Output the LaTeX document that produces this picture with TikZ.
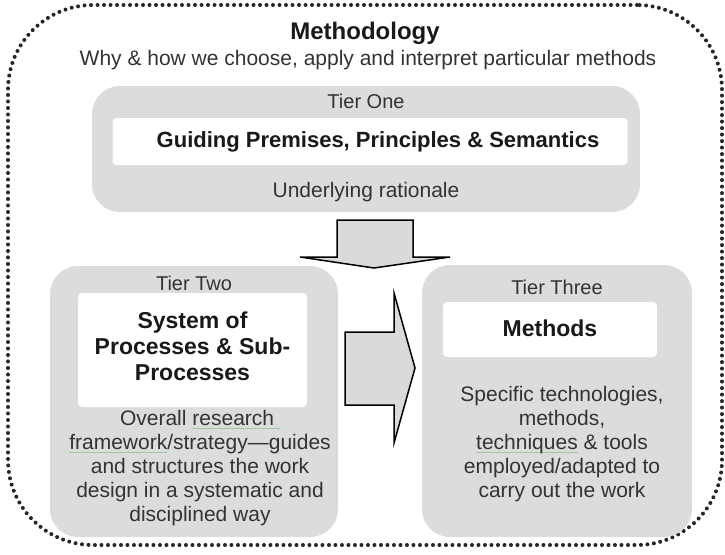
\documentclass[tikz,border=0pt]{standalone}
\usepackage{fontspec}
\setmainfont{Liberation Sans}
\definecolor{tiergray}{HTML}{DCDCDC}
\definecolor{arrowgray}{HTML}{DADADA}
\definecolor{txt}{HTML}{333333}
\definecolor{spell}{HTML}{9CCB9C}
\newcommand\gunder[1]{\setbox0\hbox{#1}\rlap{\textcolor{spell}{\rule[-4pt]{\wd0}{1.2pt}}}\box0}
\tikzset{
  outerbox/.style={draw=black!85, line width=4pt, dash pattern=on 0pt off 6.5pt, line cap=round, rounded corners=85pt, minimum width=714pt, minimum height=540pt},
  tierbox/.style={fill=tiergray, draw=none, rounded corners=28pt},
  whitebox/.style={fill=white, draw=none, rounded corners=4pt},
  tierlabel/.style={text=txt, font=\fontsize{20}{24}\selectfont},
  bodytext/.style={text=txt, font=\fontsize{21}{24}\selectfont, align=center},
  boldtext/.style={text=black!90, font=\fontsize{23}{26}\selectfont\bfseries, align=center},
  blockarrow/.style={fill=arrowgray, draw=black, line width=1.5pt, line join=miter},
}
\begin{document}
\begin{tikzpicture}[x=1pt,y=-1pt]
\useasboundingbox (0,0) rectangle (725,554);
% outer frame
\node[outerbox] (outer) at (365,275) {};
\node[text=black!90, font=\fontsize{24}{28}\selectfont\bfseries] (title) at (365,33) {Methodology};
\node[bodytext] (subtitle) at (368,60) {Why \& how we choose, apply and interpret particular methods};
% Tier One
\node[tierbox, minimum width=548pt, minimum height=126pt] (t1) at (366,149) {};
\node[tierlabel] (t1lab) at (366,101) {Tier One};
\node[whitebox, minimum width=515pt, minimum height=47pt] (t1w) at (370,141.5) {};
\node[text=black!90, font=\fontsize{22}{26}\selectfont\bfseries] (t1head) at (378,142) {Guiding Premises, Principles \& Semantics};
\node[bodytext] (t1desc) at (366,192) {Underlying rationale};
% Tier Two
\node[tierbox, minimum width=288pt, minimum height=271pt] (t2) at (194,401.5) {};
\node[tierlabel] (t2lab) at (194,283) {Tier Two};
\node[whitebox, minimum width=229pt, minimum height=114pt] (t2w) at (192.5,350) {};
\node[boldtext] (t2head) at (192.5,346) {System of\\Processes \& Sub-\\Processes};
\node[bodytext] (t2desc) at (200,468) {Overall \gunder{research }\\\gunder{framework}/strategy---guides\\and structures the work\\design in a systematic and\\disciplined way};
% Tier Three
\node[tierbox, minimum width=270pt, minimum height=272pt] (t3) at (557,401) {};
\node[tierlabel] (t3lab) at (557,287) {Tier Three};
\node[whitebox, minimum width=214pt, minimum height=55pt] (t3w) at (550,329.5) {};
\node[boldtext] (t3head) at (550,328) {Methods};
\node[bodytext] (t3desc) at (562,444) {Specific technologies,\\methods,\\\gunder{techniques}\ \& tools\\employed/adapted to\\carry out the work};
% block arrows
\coordinate (dtip) at (374,268);
\draw[blockarrow] (337,220) -- (413,220) -- (413,257) -- (450,257) -- (dtip) -- (300,257) -- (337,257) -- cycle;
\coordinate (rtip) at (415,368);
\draw[blockarrow] (345,332) -- (394,332) -- (394,293) -- (rtip) -- (394,443) -- (394,405) -- (345,405) -- cycle;
\end{tikzpicture}
\end{document}
